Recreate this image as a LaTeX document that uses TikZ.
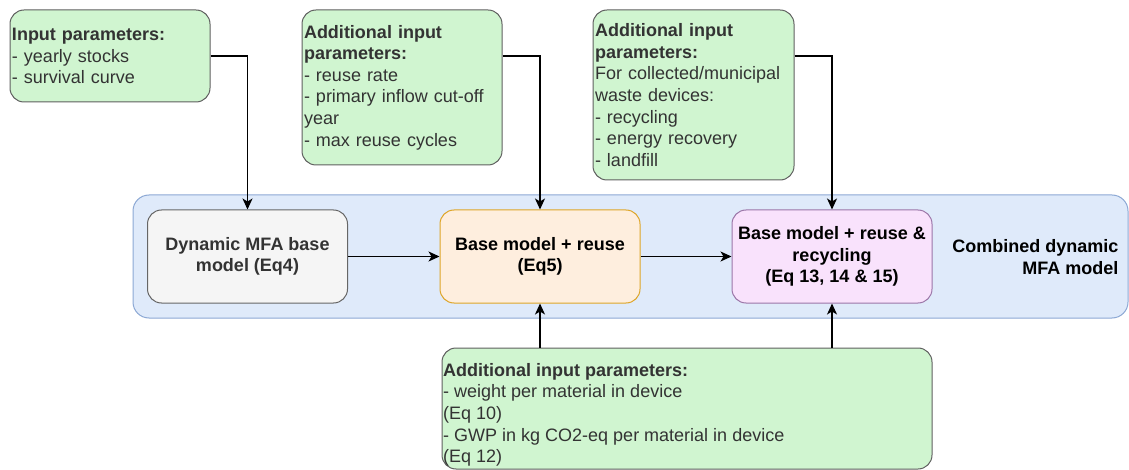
\documentclass[tikz,border=0pt]{standalone}
\usepackage{fontspec}
\setmainfont{Liberation Sans}
\usetikzlibrary{arrows.meta}

\definecolor{paramfill}{RGB}{208,245,208}
\definecolor{paramdraw}{RGB}{95,95,95}
\definecolor{txtgray}{RGB}{51,51,51}
\definecolor{basefill}{RGB}{245,245,245}
\definecolor{basedraw}{RGB}{102,102,102}
\definecolor{reusefill}{RGB}{254,238,222}
\definecolor{reusedraw}{RGB}{222,165,40}
\definecolor{recyfill}{RGB}{249,226,252}
\definecolor{recydraw}{RGB}{155,118,168}
\definecolor{groupfill}{RGB}{223,234,250}
\definecolor{groupdraw}{RGB}{140,168,212}

\tikzset{
  x=1pt, y=1pt,
  txt/.style={font=\fontsize{18}{21.6}\selectfont},
  param/.style={txt, draw=paramdraw, fill=paramfill, text=txtgray, line width=1pt,
    rounded corners=14pt, align=left, inner sep=2pt},
  model/.style={txt, font=\fontsize{18}{21.6}\selectfont\bfseries, line width=1pt,
    rounded corners=14pt, align=center, minimum width=200pt, minimum height=93pt},
  flow/.style={line width=1.4pt, -{Stealth[length=11pt,width=10pt,inset=3pt]}},
}

\begin{document}
\begin{tikzpicture}
\useasboundingbox (0,0) rectangle (1129,-470);

% surrounding group of the combined model
\node[draw=groupdraw, fill=groupfill, line width=1pt, rounded corners=16pt,
      minimum width=995pt, minimum height=123pt] (grp) at (630.5,-256.5) {};
\node[txt, font=\fontsize{18}{21.6}\selectfont\bfseries, align=right, anchor=east]
      (grplbl) at (1122,-257) {Combined dynamic\\MFA model};

% model stages
\node[model, draw=basedraw, fill=basefill, text=txtgray] (base) at (247.5,-256.5)
      {Dynamic MFA base\\model (Eq4)};
\node[model, draw=reusedraw, fill=reusefill] (reuse) at (540,-256.5)
      {Base model + reuse\\(Eq5)};
\node[model, draw=recydraw, fill=recyfill] (recy) at (832,-256.5)
      {Base model + reuse \&\\recycling\\(Eq 13, 14 \& 15)};

% input parameter boxes
\node[param, text width=196pt, minimum height=92pt] (p1) at (110,-56)
      {\textbf{Input parameters:}\\- yearly stocks\\- survival curve};
\node[param, text width=196pt, minimum height=155pt] (p2) at (402,-87.5)
      {\textbf{Additional input}\\\textbf{parameters:}\\- reuse rate\\- primary inflow cut-off\\year\\- max reuse cycles};
\node[param, text width=197pt, minimum height=170pt] (p3) at (693.5,-95)
      {\textbf{Additional input}\\\textbf{parameters:}\\For collected/municipal\\waste devices:\\- recycling\\- energy recovery\\- landfill};
\node[param, minimum width=490pt, minimum height=121pt] (p4) at (687,-408.5) {};
\node[txt, text=txtgray, align=left, anchor=north west, inner sep=0pt]
      (p4txt) at (443,-363)
      {\textbf{Additional input parameters:}\\- weight per material in device\\(Eq 10)\\- GWP in kg CO2-eq per material in device\\(Eq 12)};

% connectors
\draw[flow] (p1.east) -| (base.north);
\draw[flow] (p2.east |- p1.east) -| (reuse.north);
\draw[flow] (p3.east |- p1.east) -| (recy.north);
\draw[flow] (base.east) -- (reuse.west);
\draw[flow] (reuse.east) -- (recy.west);
\draw[flow] (p4.north -| reuse.south) -- (reuse.south);
\draw[flow] (p4.north -| recy.south) -- (recy.south);
\end{tikzpicture}
\end{document}
